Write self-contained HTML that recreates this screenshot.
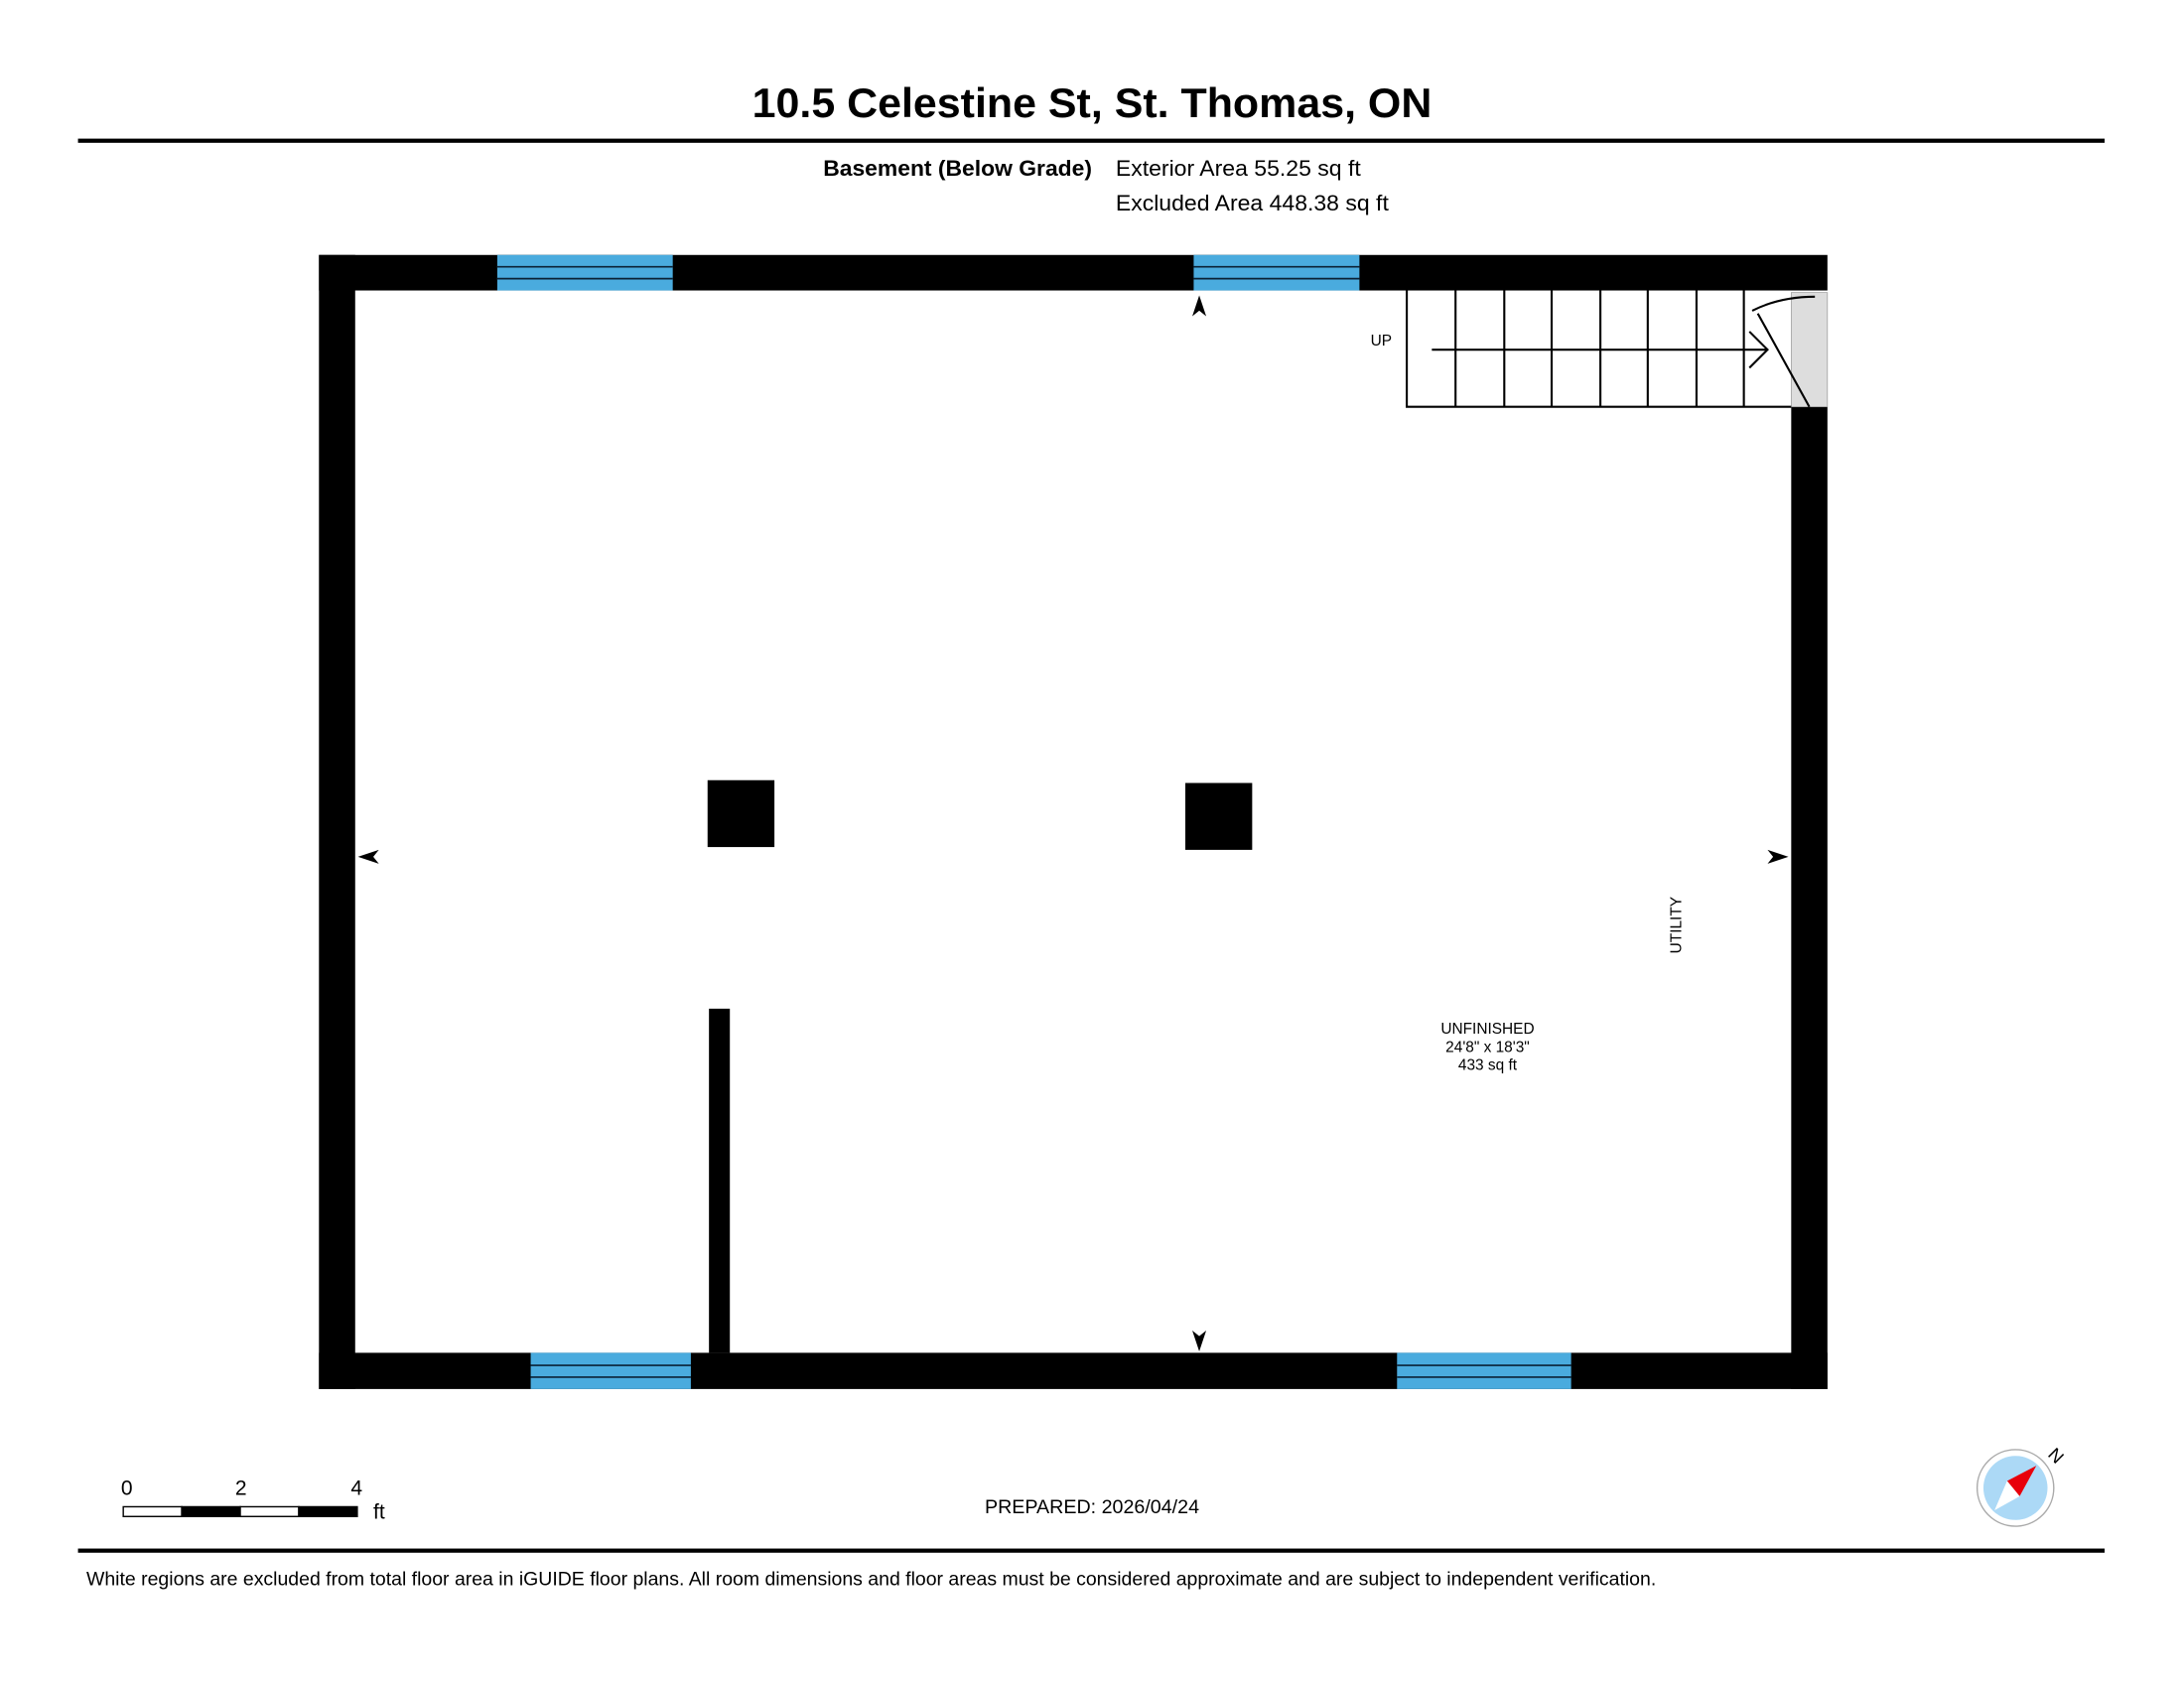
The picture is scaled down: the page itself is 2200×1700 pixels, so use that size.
<!DOCTYPE html>
<html><head><meta charset="utf-8"><style>html,body{margin:0;padding:0;background:#fff}svg{display:block}</style></head>
<body>
<svg width="2200" height="1700" viewBox="0 0 1568 1211.6" preserveAspectRatio="none" xmlns="http://www.w3.org/2000/svg" font-family="Liberation Sans, Arial, sans-serif">
<rect width="1568" height="1212" fill="#fff"/>
<text x="540" y="84" font-size="30" font-weight="bold" textLength="488" lengthAdjust="spacingAndGlyphs">10.5 Celestine St, St. Thomas, ON</text>
<rect x="56" y="99.5" width="1455" height="3" fill="#000"/>
<text x="591" y="126" font-size="16" font-weight="bold" textLength="193" lengthAdjust="spacingAndGlyphs">Basement (Below Grade)</text>
<text x="801" y="126" font-size="16" textLength="176" lengthAdjust="spacingAndGlyphs">Exterior Area 55.25 sq ft</text>
<text x="801" y="151" font-size="16" textLength="196" lengthAdjust="spacingAndGlyphs">Excluded Area 448.38 sq ft</text>
<!-- walls -->
<rect x="229" y="183" width="1083" height="25.5" fill="#000"/>
<rect x="229" y="971" width="1083" height="26" fill="#000"/>
<rect x="229" y="183" width="26" height="814" fill="#000"/>
<rect x="1286" y="292" width="26" height="705" fill="#000"/>
<rect x="1286" y="210" width="26" height="82" fill="#ddd" stroke="#999" stroke-width="0.5"/>
<!-- windows -->
<g fill="#4aabde" stroke="#0b2236" stroke-width="1.2">
<rect x="357" y="183" width="126" height="25.5" stroke="none"/><line x1="357" y1="191.5" x2="483" y2="191.5"/><line x1="357" y1="200" x2="483" y2="200"/>
<rect x="857" y="183" width="119" height="25.5" stroke="none"/><line x1="857" y1="191.5" x2="976" y2="191.5"/><line x1="857" y1="200" x2="976" y2="200"/>
<rect x="381" y="971" width="115" height="26" stroke="none"/><line x1="381" y1="980" x2="496" y2="980"/><line x1="381" y1="988.5" x2="496" y2="988.5"/>
<rect x="1003" y="971" width="125" height="26" stroke="none"/><line x1="1003" y1="980" x2="1128" y2="980"/><line x1="1003" y1="988.5" x2="1128" y2="988.5"/>
</g>
<!-- stairs -->
<g stroke="#000" stroke-width="1.5" fill="none">
<polyline points="1010,208 1010,292 1286,292"/>
<line x1="1045" y1="208" x2="1045" y2="292"/><line x1="1080" y1="208" x2="1080" y2="292"/>
<line x1="1114" y1="208" x2="1114" y2="292"/><line x1="1149" y1="208" x2="1149" y2="292"/>
<line x1="1183" y1="208" x2="1183" y2="292"/><line x1="1218" y1="208" x2="1218" y2="292"/>
<line x1="1252" y1="208" x2="1252" y2="292"/>
<line x1="1028" y1="251" x2="1268" y2="251"/>
<polyline points="1256,238 1269,251 1256,264"/>
<line x1="1262" y1="225" x2="1299" y2="292"/>
<path d="M1258,223 Q1278,213 1303,213"/>
</g>
<text x="984" y="248" font-size="11">UP</text>
<!-- columns -->
<rect x="508" y="560" width="48" height="48" fill="#000"/>
<rect x="851" y="562" width="48" height="48" fill="#000"/>
<rect x="509" y="724" width="15" height="247" fill="#000"/>
<!-- markers -->
<g fill="#000">
<path d="M861,212 L856,227 L861,223 L866,227Z"/>
<path d="M861,970 L856,955 L861,959 L866,955Z"/>
<path d="M257,615 L272,610 L268,615 L272,620Z"/>
<path d="M1284,615 L1269,610 L1273,615 L1269,620Z"/>
</g>
<text transform="translate(1207,664) rotate(-90)" font-size="11" text-anchor="middle">UTILITY</text>
<g font-size="11" text-anchor="middle">
<text x="1068" y="742">UNFINISHED</text>
<text x="1068" y="755">24'8" x 18'3"</text>
<text x="1068" y="768">433 sq ft</text>
</g>
<!-- scale -->
<g stroke="#000" stroke-width="1">
<rect x="88.5" y="1081.5" width="42" height="7" fill="#fff"/>
<rect x="130.5" y="1081.5" width="42" height="7" fill="#000"/>
<rect x="172.5" y="1081.5" width="42" height="7" fill="#fff"/>
<rect x="214.5" y="1081.5" width="42" height="7" fill="#000"/>
</g>
<g font-size="15" text-anchor="middle"><text x="91" y="1073">0</text><text x="173" y="1073">2</text><text x="256" y="1073">4</text></g>
<text x="268" y="1090" font-size="15">ft</text>
<text x="707" y="1086" font-size="14" textLength="154" lengthAdjust="spacingAndGlyphs">PREPARED: 2026/04/24</text>
<!-- compass -->
<circle cx="1447" cy="1068" r="27.5" fill="#fff" stroke="#aaa" stroke-width="1"/>
<circle cx="1447" cy="1068" r="23" fill="#acd9f6"/>
<path d="M1462,1052 L1450,1074 L1441,1063Z" fill="#e8000b"/>
<path d="M1432,1084 L1450,1074 L1441,1063Z" fill="#fff"/>
<text transform="translate(1473,1048) rotate(45)" font-size="13" text-anchor="middle">N</text>
<rect x="56" y="1111.5" width="1455" height="3" fill="#000"/>
<text x="62" y="1138" font-size="14" textLength="1127" lengthAdjust="spacingAndGlyphs">White regions are excluded from total floor area in iGUIDE floor plans. All room dimensions and floor areas must be considered approximate and are subject to independent verification.</text>
</svg>
</body></html>
